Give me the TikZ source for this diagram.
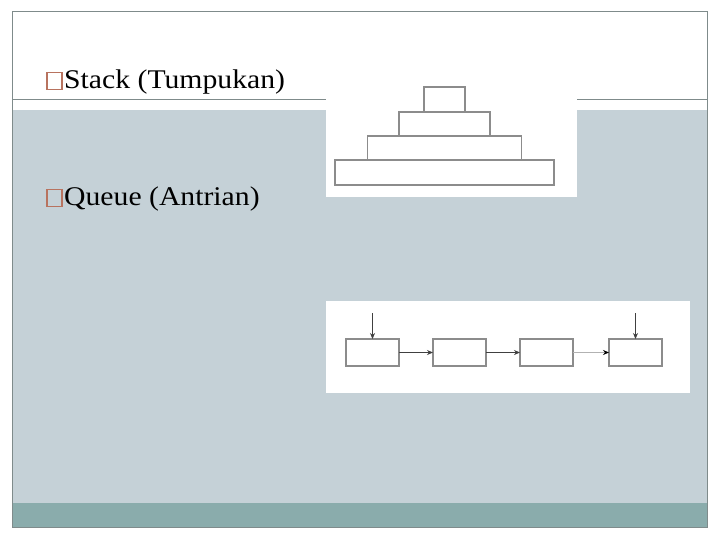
\documentclass[tikz,border=0pt]{standalone}
\usepackage{fontspec}
\setmainfont{Liberation Serif}
\usetikzlibrary{positioning, arrows.meta}

\definecolor{slidegray}{HTML}{C5D1D7}
\definecolor{slideteal}{HTML}{8AACAC}
\definecolor{framegray}{HTML}{7F8B8B}
\definecolor{bulletred}{HTML}{B8735F}
\definecolor{boxgray}{HTML}{8C8C8C}

\tikzset{
  stackbox/.style={draw=boxgray, line width=1.1pt, fill=white, inner sep=0pt, outer sep=0pt},
  queuebox/.style={draw=boxgray, line width=1.1pt, fill=white, inner sep=0pt, outer sep=0pt,
                   minimum width=53pt, minimum height=27pt},
  bulletbox/.style={draw=bulletred, line width=1.2pt, inner sep=0pt, minimum width=15pt, minimum height=17pt},
  slidetext/.style={font=\fontsize{27}{31}\selectfont, inner sep=0pt, anchor=base west},
  qarrow/.style={-{Stealth[length=6pt, width=5pt]}, line width=0.9pt, draw=black!75}
}

\begin{document}
\begin{tikzpicture}[x=1pt, y=-1pt]
  % 背景
  \useasboundingbox (0,0) rectangle (720,540);
  \fill[white] (0,0) rectangle (720,540);
  \fill[slidegray] (12,110) rectangle (707,503);
  \fill[slideteal] (12,503) rectangle (707,527);
  \draw[framegray, line width=1pt] (12,100) -- (707,100);
  \draw[framegray, line width=1pt] (12,12) rectangle (707,527);

  % 文字
  \node[bulletbox] (b1) at (54.5,81) {};
  \node[slidetext] (t1) at (64,89) {\scalebox{1.1}[1]{Stack (Tumpukan)}};
  \node[bulletbox] (b2) at (54.5,198) {};
  \node[slidetext] (t2) at (64,206) {\scalebox{1.1}[1]{Queue (Antrian)}};

  % 图片底板
  \fill[white] (326,82) rectangle (577,197);
  \fill[white] (326,301) rectangle (690,393);

  % 栈
  \node[stackbox, minimum width=219pt, minimum height=25pt] (s4) at (444.5,172.5) {};
  \node[stackbox, minimum width=154pt, minimum height=24pt, above=0pt of s4] (s3) {};
  \node[stackbox, minimum width=91pt, minimum height=24pt, above=0pt of s3] (s2) {};
  \node[stackbox, minimum width=41pt, minimum height=25pt, above=0pt of s2] (s1) {};

  % 队列
  \node[queuebox] (q1) at (372.5,352.5) {};
  \node[queuebox, right=34pt of q1] (q2) {};
  \node[queuebox, right=34pt of q2] (q3) {};
  \node[queuebox, right=36pt of q3] (q4) {};
  \coordinate[above=26pt of q1] (front);
  \coordinate[above=26pt of q4] (rear);

  \draw[qarrow] (front) -- (q1.north);
  \draw[qarrow] (rear) -- (q4.north);
  \draw[qarrow] (q1.east) -- (q2.west);
  \draw[qarrow] (q2.east) -- (q3.west);
  \draw[-{Stealth[length=6pt, width=5pt, black]}, line width=1.8pt, draw=black!30] (q3.east) -- (q4.west);
\end{tikzpicture}
\end{document}
